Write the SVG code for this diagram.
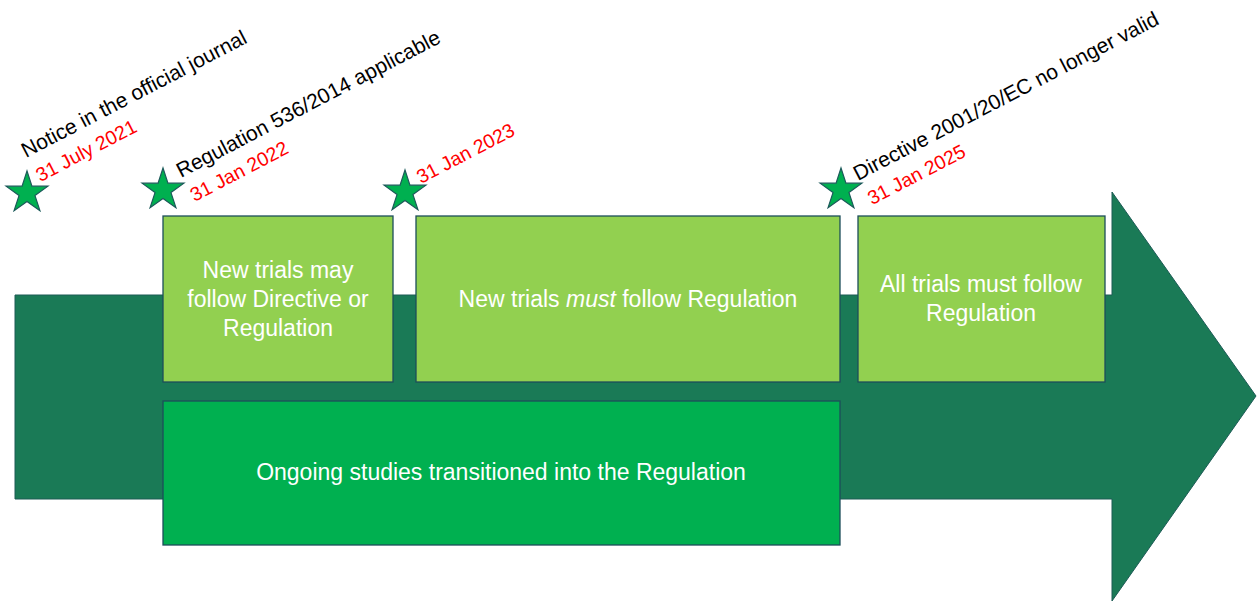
<svg xmlns="http://www.w3.org/2000/svg" width="1257" height="605" viewBox="0 0 1257 605">
<style>
.box{stroke:#1c4e5a;stroke-width:1.3}
.lt{fill:#92d050}
.dk{fill:#00b050}
.bt{font-family:"Liberation Sans",Arial,sans-serif;font-size:23px;fill:#ffffff;text-anchor:middle}
.lbl{font-family:"Liberation Sans",Arial,sans-serif;font-size:21px;fill:#000000}
.red{fill:#ff0000;font-size:19.5px}
.star{fill:#00b050;stroke:#1c5a5a;stroke-width:1.2}
</style>
<defs>
<path id="star" d="M0,-22 L4.94,-6.8 L20.92,-6.8 L7.99,2.6 L12.93,17.8 L0,8.4 L-12.93,17.8 L-7.99,2.6 L-20.92,-6.8 L-4.94,-6.8 Z"/>
</defs>
<rect width="1257" height="605" fill="#ffffff"/>
<g id="arrow">
<path d="M15,295 L1112,295 L1112,192 L1256,396 L1112,601 L1112,499 L15,499 Z" fill="#1a7a56" stroke="#1c5a55" stroke-width="1"/>
</g>
<g id="box1">
<rect class="box lt" x="163" y="216" width="230" height="166"/>
<text class="bt" x="278" y="278">New trials may</text>
<text class="bt" x="278" y="307">follow Directive or</text>
<text class="bt" x="278" y="336">Regulation</text>
</g>
<g id="box2">
<rect class="box lt" x="416" y="216" width="424" height="166"/>
<text class="bt" x="628" y="307">New trials <tspan font-style="italic">must</tspan> follow Regulation</text>
</g>
<g id="box3">
<rect class="box lt" x="858" y="216" width="247" height="166"/>
<text class="bt" x="981" y="292">All trials must follow</text>
<text class="bt" x="981" y="321">Regulation</text>
</g>
<g id="box4">
<rect class="box dk" x="163" y="401" width="677" height="144"/>
<text class="bt" x="501" y="480">Ongoing studies transitioned into the Regulation</text>
</g>
<g id="milestone1">
<use href="#star" class="star" x="27" y="193"/>
<g transform="translate(26,158) rotate(-27.5)">
<text class="lbl" x="0" y="0">Notice in the official journal</text>
<text class="lbl red" x="1.5" y="28">31 July 2021</text>
</g>
</g>
<g id="milestone2">
<use href="#star" class="star" x="163" y="190"/>
<g transform="translate(181,178) rotate(-27.5)">
<text class="lbl" x="0" y="0">Regulation 536/2014 applicable</text>
<text class="lbl red" x="1" y="27.5">31 Jan 2022</text>
</g>
</g>
<g id="milestone3">
<use href="#star" class="star" x="405" y="192"/>
<g transform="translate(421,184) rotate(-27.5)">
<text class="lbl red" x="0" y="0">31 Jan 2023</text>
</g>
</g>
<g id="milestone4">
<use href="#star" class="star" x="841" y="190"/>
<g transform="translate(858,181) rotate(-27.5)">
<text class="lbl" x="0" y="0">Directive 2001/20/EC no longer valid</text>
<text class="lbl red" x="1.2" y="28">31 Jan 2025</text>
</g>
</g>
<g id="connectors"></g>
</svg>
